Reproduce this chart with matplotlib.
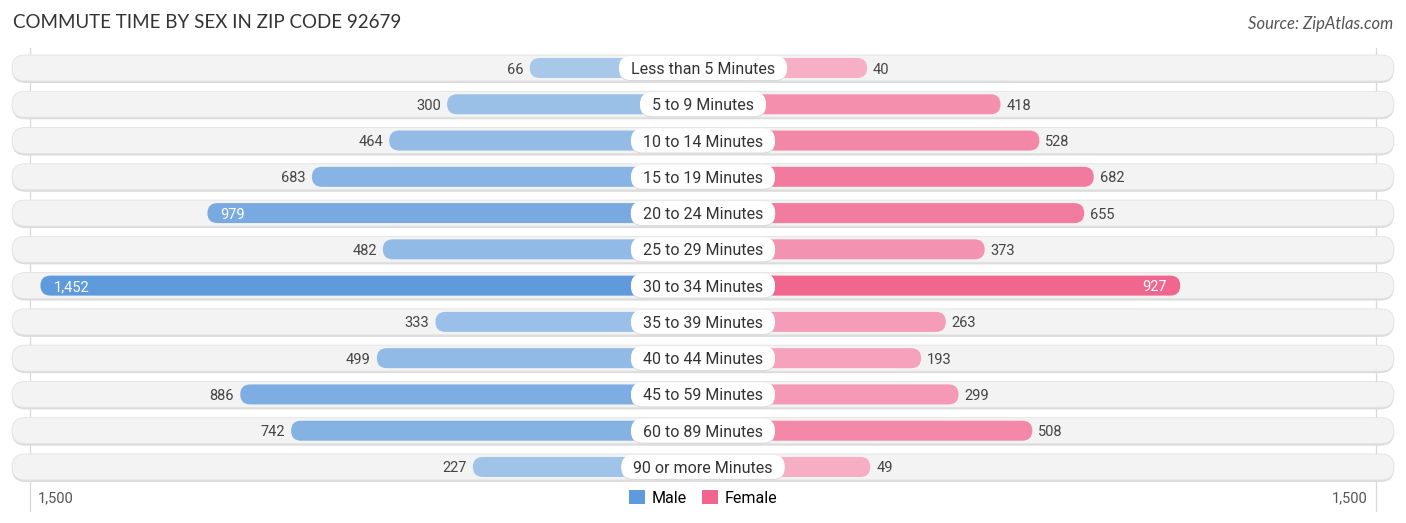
import matplotlib
matplotlib.use("Agg")
import matplotlib.pyplot as plt
from matplotlib.patches import FancyBboxPatch, Patch
from matplotlib.colors import to_rgb

# ── Data ──────────────────────────────────────────────────────────
categories = [
    "Less than 5 Minutes", "5 to 9 Minutes", "10 to 14 Minutes",
    "15 to 19 Minutes", "20 to 24 Minutes", "25 to 29 Minutes",
    "30 to 34 Minutes", "35 to 39 Minutes", "40 to 44 Minutes",
    "45 to 59 Minutes", "60 to 89 Minutes", "90 or more Minutes",
]
male = [66, 300, 464, 683, 979, 482, 1452, 333, 499, 886, 742, 227]
female = [40, 418, 528, 682, 655, 373, 927, 263, 193, 299, 508, 49]
axis_max = 1500

title = "COMMUTE TIME BY SEX IN ZIP CODE 92679"
source = "Source: ZipAtlas.com"

# ── Layout (pixel-based scale) ────────────────────────────────────
W, H = 1406, 523
PX_PER_UNIT = 0.353          # horizontal px per commuter
PX_PER_ROW = 36.27
CENTER_PX = 703
ROW0_PX = 68
OFFSET = 150 / PX_PER_UNIT   # bars start behind the centre label

x_lo = -CENTER_PX / PX_PER_UNIT
x_hi = (W - CENTER_PX) / PX_PER_UNIT
y_top = -ROW0_PX / PX_PER_ROW
y_bot = (H - ROW0_PX) / PX_PER_ROW
aspect = PX_PER_UNIT / PX_PER_ROW

def px_w(p):
    return p / PX_PER_UNIT

def px_h(p):
    return p / PX_PER_ROW

male_dark, male_light = to_rgb("#5f9bdc"), to_rgb("#abcaeb")
fem_dark, fem_light = to_rgb("#f0668f"), to_rgb("#f7b2c8")

def shade(v, vmax, dark, light):
    t = min(v / vmax, 1.0)
    return tuple(l + (d - l) * t for d, l in zip(dark, light))

fig = plt.figure(figsize=(W / 100, H / 100), dpi=100)
ax = fig.add_axes([0, 0, 1, 1])
ax.set_xlim(x_lo, x_hi)
ax.set_ylim(y_bot, y_top)
ax.axis("off")
renderer = fig.canvas.get_renderer()

font = "Roboto"
TXT_DY = px_h(1.5)   # nudge text down to sit visually centred

def pill(x0, x1, y, h_px, **kw):
    h = px_h(h_px)
    p = FancyBboxPatch((x0, y - h / 2), x1 - x0, h,
                       boxstyle=f"round,pad=0,rounding_size={px_w(h_px / 2)}",
                       mutation_aspect=aspect, **kw)
    ax.add_patch(p)

# grid lines at +/- 1500
edge = OFFSET + axis_max - px_w(6.5)
for gx in (-edge, edge):
    ax.plot([gx, gx], [y_top + px_h(48), y_bot - px_h(12)],
            color="#d8d8d8", lw=0.9, zorder=0)

row_half = px_w(CENTER_PX - 12)
n_male_max = max(male)
n_fem_max = max(female)

for i, (cat, m, f) in enumerate(zip(categories, male, female)):
    # background row
    pill(-row_half, row_half, i + px_h(1.5), 27, fc="#dcdcdc", ec="none", zorder=1)
    pill(-row_half, row_half, i, 26, fc="#f3f3f3", ec="#e2e2e2", lw=0.6, zorder=1)

    mw = OFFSET + m
    fw = OFFSET + f
    pill(-mw, 0, i, 20, fc=shade(m, n_male_max, male_dark, male_light), ec="none", zorder=2)
    pill(0, fw, i, 20, fc=shade(f, n_fem_max, fem_dark, fem_light), ec="none", zorder=2)

    ty = i + TXT_DY
    # values
    if m >= 900:
        ax.text(-mw + px_w(13), ty, f"{m:,}", ha="left", va="center",
                fontsize=10.5, color="white", family=font, zorder=4)
    else:
        ax.text(-mw - px_w(6), ty, f"{m:,}", ha="right", va="center",
                fontsize=10.5, color="#444444", family=font, zorder=4)
    if f >= 900:
        ax.text(fw - px_w(13), ty, f"{f:,}", ha="right", va="center",
                fontsize=10.5, color="white", family=font, zorder=4)
    else:
        ax.text(fw + px_w(6), ty, f"{f:,}", ha="left", va="center",
                fontsize=10.5, color="#444444", family=font, zorder=4)

    # category label in white pill sized to the text
    t = ax.text(0, ty, cat, ha="center", va="center", fontsize=11.5,
                color="#333333", family=font, zorder=6)
    tw = t.get_window_extent(renderer).width
    half = px_w(tw / 2 + 12)
    pill(-half, half, i + px_h(1), 24, fc="#d9d9d9", ec="none", zorder=4)
    pill(-half, half, i, 24, fc="white", ec="none", zorder=5)

# axis end labels
ax.text(-edge + px_w(8), y_bot - px_h(25), f"{axis_max:,}", ha="left", va="center",
        fontsize=10.5, color="#555555", family=font)
ax.text(edge - px_w(8), y_bot - px_h(25), f"{axis_max:,}", ha="right", va="center",
        fontsize=10.5, color="#555555", family=font)

# title / source
fig.text(13 / W, 1 - 22 / H, title, ha="left", va="center", fontsize=13.5,
         color="#333333", family="Lato")
fig.text(1393 / W, 1 - 24 / H, source, ha="right", va="center", fontsize=12,
         color="#555555", family="Lato", style="italic")

# legend
handles = [Patch(fc=male_dark, ec="none", label="Male"),
           Patch(fc=fem_dark, ec="none", label="Female")]
fig.legend(handles=handles, loc="center", bbox_to_anchor=(0.5, 1 - 498 / H),
           ncol=2, frameon=False, handlelength=1.0, handleheight=1.0,
           handletextpad=0.4, columnspacing=1.0,
           prop={"family": font, "size": 11.5})

fig.savefig("out.png", dpi=100)
